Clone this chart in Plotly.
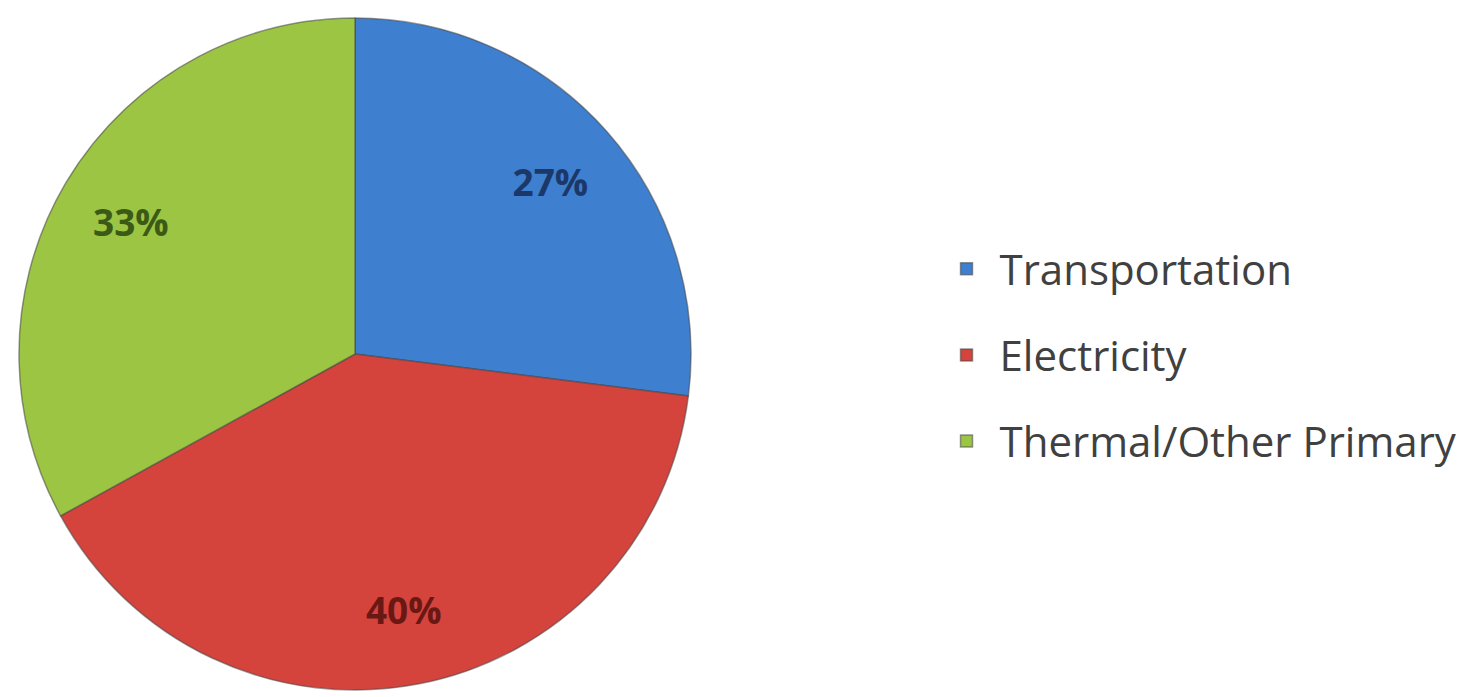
import plotly.graph_objects as go

categories = ["Transportation", "Electricity", "Thermal/Other Primary"]
values = [27, 40, 33]
colors = ["#3f7fd0", "#d5433d", "#9cc544"]
text_colors = ["#1c3868", "#6a1814", "#3b5a16"]

dom = dict(x=[10/1470, 684/1470], y=[1 - 682/697, 1 - 10/697])

# legend text is smaller than the legend font (which sets the row spacing)
legend_names = [f"<span style='font-size:42px;baseline-shift:9px'>{c}</span>" for c in categories]

fig = go.Figure()
# main pie (slices + legend)
fig.add_trace(go.Pie(
    labels=legend_names,
    values=values,
    sort=False,
    direction="clockwise",
    rotation=0,
    marker=dict(colors=colors, line=dict(color="rgba(70,70,70,0.55)", width=1.5)),
    textinfo="none",
    domain=dom,
    customdata=categories,
    hovertemplate="%{customdata}: %{percent}<extra></extra>",
))
# transparent ring carrying the percentage labels toward the outer part of each slice
fig.add_trace(go.Pie(
    labels=legend_names,
    values=values,
    sort=False,
    direction="clockwise",
    rotation=0,
    hole=0.55,
    marker=dict(colors=["rgba(0,0,0,0)"] * 3, line=dict(width=0)),
    texttemplate="%{percent:.0%}",
    textposition="inside",
    insidetextorientation="horizontal",
    textfont=dict(family="Open Sans", size=37, color=text_colors, weight="bold"),
    domain=dom,
    showlegend=False,
    hoverinfo="skip",
))

fig.update_layout(
    width=1470, height=697,
    margin=dict(l=0, r=0, t=0, b=0),
    paper_bgcolor="white",
    plot_bgcolor="white",
    showlegend=True,
    legend=dict(
        x=0.6296, y=0.502, xanchor="left", yanchor="middle",
        font=dict(family="Open Sans", size=64, color="#404040"),
        itemwidth=56,
        bgcolor="rgba(0,0,0,0)",
    ),
)

fig.write_html("out.html")
